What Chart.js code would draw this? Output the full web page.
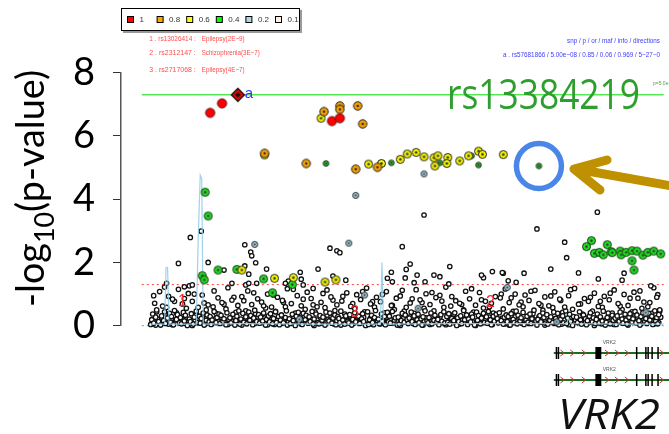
<!DOCTYPE html>
<html>
<head>
<meta charset="utf-8">
<script src="https://cdn.jsdelivr.net/npm/chart.js@4.4.1/dist/chart.umd.min.js"></script>
<style>
html, body { margin: 0; padding: 0; background: #fff; }
#wrap { width: 669px; height: 434px; position: relative; }
</style>
</head>
<body>
<div id="wrap"><canvas id="chart"></canvas></div>
<script>
// positions in kb from the left edge of the plot, values in -log10(p)
const leadSnp = [[118, 7.30]];
const ldRed = [[90, 6.73], [102, 7.03], [213, 6.47], [221, 6.56]];
const ldOrange = [[205, 6.77], [221, 6.95], [221, 6.84], [239, 6.95], [244, 6.38], [145, 5.45], [187, 5.13], [237, 4.95], [259, 5.01]];
const ldYellow = [[202, 6.56], [145, 5.40], [250, 5.11], [263, 5.13], [282, 5.26], [289, 5.43], [298, 5.48], [306, 5.34],
  [316, 5.31], [320, 5.37], [330, 5.32], [317, 5.05], [329, 5.13], [342, 5.21], [351, 5.37], [361, 5.52], [365, 5.42],
  [386, 5.41], [122, 1.76], [155, 1.50], [174, 1.52], [206, 1.38], [217, 1.45]];
const ldGreen = [[85, 4.22], [88, 3.47], [98, 1.76], [117, 1.78], [144, 1.48], [82, 1.58], [84, 1.45], [153, 1.04], [173, 1.30],
  [475, 2.69], [470, 2.50], [478, 2.29], [483, 2.32], [487, 2.24], [491, 2.56], [495, 2.34], [496, 2.31], [504, 2.36],
  [505, 2.24], [510, 2.32], [516, 2.37], [516, 2.05], [521, 2.36], [527, 2.23], [532, 2.32], [538, 2.36], [545, 2.27], [518, 1.76]];
const ldGreenSmall = [[207, 5.13], [273, 5.15], [322, 5.15], [354, 5.37], [361, 5.08], [422, 5.05], [477, 4.92]];
const ldBlue = [[135, 2.57], [237, 4.12], [230, 2.61], [306, 4.80], [246, 0.97], [390, 1.21], [530, 0.41], [440, 0.12], [180, 0.2], [300, 0.55]];
const ldWhiteHigh = [
  [70, 2.79], [81, 2.99], [58, 1.97], [88, 2.00], [125, 2.56], [131, 2.33], [132, 2.21], [136, 1.99], [147, 1.79], [211, 2.45],
  [218, 2.37], [221, 2.31], [199, 1.79], [181, 1.69], [284, 2.50], [273, 1.69], [288, 1.78], [125, 1.89], [104, 1.76], [129, 1.63],
  [169, 1.41], [182, 1.47], [227, 1.44], [214, 1.57], [306, 3.50], [481, 3.59], [420, 3.06], [448, 2.64], [450, 2.15], [434, 1.79],
  [462, 1.67], [292, 1.95], [332, 1.87], [366, 1.52], [375, 1.71], [386, 1.66], [407, 1.66], [391, 1.42], [399, 1.37], [508, 1.66],
  [385, 1.68], [482, 1.48], [506, 1.44], [535, 1.26], [287, 1.51], [299, 1.60], [316, 1.60], [322, 1.55], [331, 1.32], [269, 1.50],
  [274, 1.39], [296, 1.36], [307, 1.39], [364, 1.60], [46, 1.34], [64, 1.23], [69, 1.26], [72, 1.29], [112, 1.34], [126, 1.29],
  [129, 1.34], [137, 1.34], [166, 1.34], [184, 1.29], [194, 1.18]];
const ldWhiteBand = [
  [30,.04],[31,.19],[32,.37],[33,.08],[35,.27],[36,.5],[38,.13],[34,.71],[39,1.08],
  [40,.02],[41,.31],[43,.16],[44,.44],[45,.07],[47,.24],[49,.39],[42,.62],[48,.93],
  [50,.11],[51,.29],[53,.03],[54,.48],[56,.2],[57,.35],[59,.09],[52,.84],[58,1.15],
  [60,.26],[61,.06],[63,.42],[64,.15],[65,.33],[67,.01],[69,.21],[62,.69],[68,1.02],
  [70,.13],[71,.38],[73,.05],[74,.27],[76,.46],[77,.1],[79,.3],[72,.77],[78,.58],
  [80,.08],[81,.23],[83,.4],[84,.02],[86,.17],[87,.34],[89,.12],[82,.97],[88,.66],
  [90,.29],[91,.04],[92,.18],[94,.45],[96,.1],[97,.26],[99,.37],[93,.6],[98,.88],
  [100,.07],[101,.33],[103,.14],[104,.22],[106,.03],[107,.41],[109,.19],[102,.73],[108,1.2],
  [110,.25],[111,.09],[113,.36],[115,.02],[116,.16],[117,.3],[119,.47],[112,.81],[118,.64],
  [120,.05],[121,.21],[123,.39],[124,.11],[126,.28],[127,.06],[129,.43],[122,.92],[128,1.1],
  [130,.17],[131,.32],[133,.03],[134,.24],[135,.49],[137,.13],[139,.35],[132,.67],[138,.85],
  [140,.08],[141,.27],[143,.15],[144,.4],[146,.02],[147,.2],[149,.31],[142,.75],[148,1.0],
  [150,.12],[151,.38],[153,.06],[154,.23],[156,.44],[157,.1],[159,.29],[152,.59],[158,.9],
  [160,.03],[161,.18],[162,.34],[164,.09],[166,.26],[167,.47],[169,.14],[163,.8],[168,1.17],
  [170,.22],[171,.07],[173,.36],[174,.16],[176,.01],[177,.3],[179,.42],[172,.7],[178,.95],
  [180,.11],[181,.25],[183,.04],[184,.39],[186,.19],[187,.33],[189,.08],[182,.63],[188,1.06],
  [190,.28],[191,.13],[193,.45],[194,.05],[195,.21],[197,.37],[199,.1],[192,.86],[198,.6],
  [200,.06],[201,.32],[203,.17],[204,.27],[206,.02],[207,.43],[209,.2],[202,.74],[208,1.13],
  [210,.15],[211,.4],[213,.08],[214,.24],[216,.34],[217,.03],[219,.29],[212,.91],[218,.66],
  [220,.23],[221,.1],[222,.46],[224,.18],[226,.05],[227,.31],[229,.14],[223,.78],[228,1.04],
  [230,.09],[231,.35],[233,.02],[234,.2],[236,.41],[237,.12],[239,.27],[232,.61],[238,.98],
  [240,.3],[241,.07],[243,.22],[244,.38],[245,.13],[247,.01],[249,.44],[242,.83],[248,1.19],
  [250,.04],[251,.19],[253,.33],[254,.1],[256,.26],[257,.48],[259,.16],[252,.69],[258,.9],
  [260,.21],[261,.06],[263,.37],[264,.14],[266,.29],[267,.03],[269,.42],[262,.76],[268,1.08],
  [270,.12],[271,.3],[272,.08],[274,.45],[276,.18],[277,.25],[279,.02],[273,.64],[278,.87],
  [280,.27],[281,.05],[283,.16],[284,.39],[286,.11],[287,.34],[289,.2],[282,.94],[288,.58],
  [290,.07],[291,.24],[293,.43],[294,.13],[296,.31],[297,.04],[299,.19],[292,.72],[298,1.14],
  [300,.36],[301,.1],[303,.22],[304,.02],[305,.28],[307,.47],[309,.15],[302,.82],[308,1.01],
  [310,.09],[311,.26],[313,.4],[314,.06],[316,.17],[317,.33],[319,.12],[312,.67],[318,.89],
  [320,.2],[321,.03],[323,.35],[324,.14],[326,.44],[327,.08],[329,.29],[322,.96],[328,1.22],
  [330,.11],[331,.38],[332,.05],[334,.23],[336,.16],[337,.41],[339,.01],[333,.62],[338,.79],
  [340,.25],[341,.13],[343,.31],[344,.07],[346,.48],[347,.19],[349,.34],[342,.71],[348,1.09],
  [350,.04],[351,.21],[353,.12],[354,.37],[355,.27],[357,.02],[359,.43],[352,.85],[358,.65],
  [360,.17],[361,.32],[363,.06],[364,.24],[366,.39],[367,.1],[369,.28],[362,1.05],[368,.77],
  [370,.08],[371,.45],[373,.19],[374,.03],[376,.3],[377,.14],[379,.36],[372,.6],[378,.92],
  [380,.23],[381,.09],[382,.41],[384,.16],[386,.05],[387,.27],[389,.34],[383,.88],[388,1.16],
  [390,.13],[391,.29],[393,.02],[394,.38],[396,.2],[397,.1],[399,.46],[392,.73],[398,1.0],
  [400,.06],[401,.33],[403,.15],[404,.25],[406,.42],[407,.04],[409,.18],[402,.66],[408,.97],
  [410,.3],[411,.11],[413,.37],[414,.07],[415,.22],[417,.49],[419,.14],[412,.8],[418,1.12],
  [420,.02],[421,.2],[423,.32],[424,.12],[426,.4],[427,.26],[429,.08],[422,.7],[428,.91],
  [430,.35],[431,.05],[433,.17],[434,.28],[436,.1],[437,.43],[439,.23],[432,.63],[438,1.07],
  [440,.14],[441,.39],[442,.03],[444,.21],[446,.31],[447,.09],[449,.47],[443,.84],[448,.59],
  [450,.07],[451,.24],[453,.36],[454,.13],[456,.01],[457,.29],[459,.18],[452,.95],[458,1.18],
  [460,.27],[461,.1],[463,.44],[464,.19],[465,.05],[467,.34],[469,.22],[462,.68],[468,.86],
  [470,.03],[471,.16],[473,.3],[474,.41],[476,.12],[477,.25],[479,.07],[472,.77],[478,1.03],
  [480,.2],[481,.37],[483,.09],[484,.28],[486,.15],[487,.46],[489,.02],[482,.61],[488,.93],
  [490,.11],[491,.26],[492,.4],[494,.06],[496,.33],[497,.17],[499,.24],[493,.82],[498,1.13],
  [500,.04],[501,.31],[503,.14],[504,.43],[506,.21],[507,.08],[509,.36],[502,.7],[508,.99],
  [510,.18],[511,.05],[513,.27],[514,.38],[516,.12],[517,.22],[519,.45],[512,.64],[518,1.06],
  [520,.09],[521,.34],[523,.16],[524,.02],[525,.29],[527,.41],[529,.13],[522,.87],[528,.75],
  [530,.23],[531,.07],[533,.39],[534,.18],[536,.3],[537,.04],[539,.47],[532,.6],[538,1.2],
  [540,.15],[541,.26],[542,.06],[543,.35],[544,.5],[541,.9]];
const ldWhiteBand2 = [
  [32,.1],[35,.02],[37,.21],[36,.44],[33,.95],[42,.14],[45,.27],[48,.05],[46,.58],[44,1.22],
  [52,.03],[55,.18],[58,.29],[56,.41],[54,.77],[62,.21],[65,.08],[68,.15],[66,.55],[64,.86],
  [72,.01],[75,.17],[78,.24],[76,.36],[74,1.0],[82,.28],[85,.06],[88,.19],[86,.5],[84,.72],
  [92,.07],[95,.22],[98,.13],[96,.39],[94,1.1],[102,.25],[105,.12],[108,.04],[106,.53],[104,.68],
  [112,.15],[115,.26],[118,.08],[116,.42],[114,.9],[122,.02],[125,.16],[128,.23],[126,.47],[124,.79],
  [132,.19],[135,.07],[138,.28],[136,.38],[134,1.04],[142,.11],[145,.24],[148,.03],[146,.56],[144,.63],
  [152,.26],[155,.04],[158,.17],[156,.45],[154,.97],[162,.08],[165,.21],[168,.02],[166,.6],[164,.74],
  [172,.18],[175,.1],[178,.27],[176,.4],[174,1.15],[182,.05],[185,.28],[188,.14],[186,.52],[184,.84],
  [192,.22],[195,.01],[198,.18],[196,.43],[194,.66],[202,.09],[205,.25],[208,.12],[206,.57],[204,1.02],
  [212,.27],[215,.06],[218,.16],[216,.48],[214,.81],[222,.02],[225,.2],[228,.29],[226,.37],[224,.93],
  [232,.17],[235,.08],[238,.22],[236,.54],[234,.7],[242,.12],[245,.27],[248,.05],[246,.44],[244,1.08],
  [252,.24],[255,.03],[258,.19],[256,.59],[254,.76],[262,.06],[265,.18],[268,.26],[266,.41],[264,.99],
  [272,.2],[275,.09],[278,.15],[276,.51],[274,.64],[282,.01],[285,.23],[288,.11],[286,.46],[284,1.12],
  [292,.28],[295,.07],[298,.2],[296,.39],[294,.85],[302,.13],[305,.02],[308,.25],[306,.55],[304,.73],
  [312,.04],[315,.21],[318,.17],[316,.47],[314,1.05],[322,.26],[325,.1],[328,.03],[326,.58],[324,.78],
  [332,.15],[335,.28],[338,.09],[336,.36],[334,.92],[342,.05],[345,.19],[348,.24],[346,.5],[344,.67],
  [352,.22],[355,.12],[358,.01],[356,.43],[354,1.17],[362,.1],[365,.26],[368,.16],[366,.56],[364,.82],
  [372,.27],[375,.04],[378,.2],[376,.4],[374,.71],[382,.14],[385,.23],[388,.06],[386,.53],[384,1.0],
  [392,.02],[395,.17],[398,.28],[396,.45],[394,.88],[402,.21],[405,.08],[408,.13],[406,.6],[404,.75],
  [412,.07],[415,.25],[418,.18],[416,.38],[414,1.09],[422,.28],[425,.11],[428,.02],[426,.49],[424,.65],
  [432,.16],[435,.22],[438,.07],[436,.57],[434,.94],[442,.24],[445,.05],[448,.19],[446,.42],[444,.8],
  [452,.03],[455,.27],[458,.12],[456,.52],[454,1.14],[462,.18],[465,.14],[468,.26],[466,.37],[464,.69],
  [472,.09],[475,.2],[478,.01],[476,.46],[474,.9],[482,.26],[485,.06],[488,.17],[486,.58],[484,.77],
  [492,.13],[495,.28],[498,.04],[496,.4],[494,1.03],[502,.2],[505,.1],[508,.23],[506,.51],[504,.62],
  [512,.02],[515,.16],[518,.27],[516,.44],[514,.87],[522,.25],[525,.07],[528,.19],[526,.55],[524,1.1],
  [532,.11],[535,.24],[538,.05],[536,.39],[534,.73],[540,.2],[543,.1],[545,.27],[544,.46],[542,.98]];

// recombination rate (cM/Mb)
const recombPos = [30, 44, 45.5, 47, 48.5, 76, 78, 80, 81.5, 83, 120, 200, 262, 263.5, 265, 330, 450, 452, 454, 520, 548];
const recombRate = [0.6, 0.6, 23, 23, 0.6, 0.6, 35, 59.5, 58, 0.6, 0.8, 0.6, 0.6, 25, 0.6, 0.8, 0.8, 3, 0.8, 0.6, 0.6];

const lineStart = 21, lineEnd = 548;
const gwsLevel = 7.30, sugLevel = 1.3, baseLevel = 0;

const ldKeys = ['1', '0.8', '0.6', '0.4', '0.2', '0.1'];
const ldColors = ['#ff0000', '#ffa500', '#ffff00', '#00ff00', '#add8e6', '#fff2e0'];

const catalogLines = [['1 . rs13026414 :', 'Epilepsy(2E\u22129)'], ['2 . rs2312147 :', 'Schizophrenia(3E\u22127)'], ['3 . rs2717068 :', 'Epilepsy(4E\u22127)']];
const catalogX = [62, 373, 236];
const catalogY = [0.75, 0.72, 0.43];
const catalogTags = ['1', '2', '3'];

const geneStart = 437, geneEnd = 560;
const geneExons = [439.7, 441.7, 520.7, 530, 532.3, 536.3, 542.3];
const geneBlock = [479, 485];
const geneArrows = [445.7, 455.7, 467.3, 490.7, 500.7, 510.7, 546];

const pts = a => a.map(([x, y]) => ({ x, y }));

function makeDot(fill, r, core, stroke) {
  const c = document.createElement('canvas');
  const s = Math.ceil(r * 2 + 3);
  c.width = s; c.height = s;
  const g = c.getContext('2d');
  g.beginPath(); g.arc(s / 2, s / 2, r, 0, Math.PI * 2);
  g.fillStyle = fill; g.fill();
  g.lineWidth = 1; g.strokeStyle = stroke || '#222'; g.stroke();
  if (core) {
    g.beginPath(); g.arc(s / 2, s / 2, core, 0, Math.PI * 2);
    g.fillStyle = '#333'; g.fill();
  }
  return c;
}

function makeDiamond() {
  const c = document.createElement('canvas');
  c.width = 16; c.height = 16;
  const g = c.getContext('2d');
  const d = (r) => { g.beginPath(); g.moveTo(8, 8 - r); g.lineTo(8 + r, 8); g.lineTo(8, 8 + r); g.lineTo(8 - r, 8); g.closePath(); };
  d(6.5); g.fillStyle = '#ee0000'; g.fill(); g.lineWidth = 1.3; g.strokeStyle = '#111'; g.stroke();
  d(2.8); g.fillStyle = '#111'; g.fill();
  return c;
}

function fitText(ctx, text, x, y, width, align) {
  const w = ctx.measureText(text).width;
  const k = width / w;
  ctx.save();
  ctx.translate(x, y);
  ctx.scale(k, 1);
  ctx.textAlign = 'left';
  ctx.fillText(text, align === 'right' ? -w : 0, 0);
  ctx.restore();
}

const overlay = {
  id: 'overlay',
  afterDraw(chart) {
    const ctx = chart.ctx;
    const xs = chart.scales.x, ys = chart.scales.y;
    ctx.save();

    // y axis title with subscript
    ctx.save();
    ctx.translate(44, 307);
    ctx.rotate(-Math.PI / 2);
    ctx.fillStyle = '#000';
    ctx.textBaseline = 'alphabetic';
    ctx.font = '38px Lato';
    const w1 = ctx.measureText('-log').width;
    const w3 = ctx.measureText('(p-value)').width;
    ctx.font = '27px Lato';
    const w2 = ctx.measureText('10').width;
    ctx.scale(237 / (w1 + w2 + w3), 1);
    ctx.font = '38px Lato'; ctx.fillText('-log', 0, 0);
    ctx.font = '27px Lato'; ctx.fillText('10', w1, 10);
    ctx.font = '38px Lato'; ctx.fillText('(p-value)', w1 + w2, 0);
    ctx.restore();

    // LD legend box
    ctx.fillStyle = '#9a9a9a'; ctx.fillRect(123, 10, 179, 23);
    ctx.fillStyle = '#fff'; ctx.fillRect(121, 8, 179, 23);
    ctx.strokeStyle = '#000'; ctx.lineWidth = 1; ctx.strokeRect(121.5, 8.5, 178, 22);
    ctx.font = '8px "Liberation Sans"';
    ctx.textBaseline = 'middle';
    ldKeys.forEach((k, i) => {
      const sx = 127.5 + i * 29.6;
      ctx.fillStyle = ldColors[i];
      ctx.fillRect(sx, 16.5, 6, 6);
      ctx.strokeStyle = '#000'; ctx.strokeRect(sx, 16.5, 6, 6);
      ctx.fillStyle = '#333';
      ctx.fillText(k, sx + 12, 20);
    });

    // GWAS catalog text
    ctx.fillStyle = '#ff4b4b';
    ctx.font = '7px "Liberation Sans"';
    const rowsY = [39.5, 53, 70];
    const rightW = [43, 58, 43];
    catalogLines.forEach((l, i) => {
      fitText(ctx, l[0], 149.3, rowsY[i], 46.5);
      fitText(ctx, l[1], 201.7, rowsY[i], rightW[i]);
    });

    // info text top right
    ctx.fillStyle = '#3c3cff';
    fitText(ctx, 'snp / p / or / maf / info / directions', 660, 41.5, 93, 'right');
    fitText(ctx, 'a . rs57681866 / 5.00e\u221208 / 0.85 / 0.06 / 0.969 / 5\u221227\u22120', 660, 55, 157, 'right');

    // lead snp label
    ctx.fillStyle = '#3030ff';
    ctx.font = '15px "Liberation Sans"';
    ctx.textBaseline = 'middle';
    ctx.fillText('a', xs.getPixelForValue(leadSnp[0][0]) + 7, ys.getPixelForValue(leadSnp[0][1]) - 0.5);

    // catalog tags
    ctx.fillStyle = '#ff2a2a';
    ctx.font = '16px "Liberation Sans"';
    ctx.textAlign = 'center';
    catalogTags.forEach((t, i) => ctx.fillText(t, xs.getPixelForValue(catalogX[i]), ys.getPixelForValue(catalogY[i])));
    ctx.textAlign = 'left';

    // big rs label
    ctx.fillStyle = '#2f9e2f';
    ctx.font = '42px "Open Sans"';
    ctx.textBaseline = 'alphabetic';
    fitText(ctx, 'rs13384219', 447, 109, 193);
    ctx.fillStyle = '#5a9a5a';
    ctx.font = '5px "Liberation Sans"';
    ctx.fillText('p=5.0e-08', 653, 85);

    // highlight circle around rs13384219 and arrow
    const cx = xs.getPixelForValue(ldGreenSmall[5][0]);
    const cy = ys.getPixelForValue(ldGreenSmall[5][1]);
    ctx.beginPath();
    ctx.arc(cx, cy, 22.5, 0, Math.PI * 2);
    ctx.strokeStyle = '#4a86e8'; ctx.lineWidth = 5.5; ctx.stroke();

    ctx.strokeStyle = '#bf9000'; ctx.lineWidth = 9; ctx.lineCap = 'round'; ctx.lineJoin = 'round';
    ctx.beginPath();
    ctx.moveTo(607, 160); ctx.lineTo(574, 169); ctx.lineTo(600, 190);
    ctx.moveTo(576, 169); ctx.lineTo(700, 191);
    ctx.stroke();
    ctx.lineCap = 'butt';

    // gene tracks
    [353, 380].forEach(gy => {
      const a = xs.getPixelForValue(geneStart), b = xs.getPixelForValue(geneEnd);
      ctx.strokeStyle = '#1f6b1f'; ctx.lineWidth = 2;
      ctx.beginPath(); ctx.moveTo(a, gy); ctx.lineTo(b, gy); ctx.stroke();
      ctx.strokeStyle = '#cc3333'; ctx.lineWidth = 1;
      geneArrows.forEach(p => {
        const px = xs.getPixelForValue(p);
        ctx.beginPath(); ctx.moveTo(px - 2, gy - 3); ctx.lineTo(px + 2, gy); ctx.lineTo(px - 2, gy + 3); ctx.stroke();
      });
      ctx.strokeStyle = '#000'; ctx.lineWidth = 1.5;
      geneExons.forEach(p => {
        const px = xs.getPixelForValue(p);
        ctx.beginPath(); ctx.moveTo(px, gy - 6); ctx.lineTo(px, gy + 6); ctx.stroke();
      });
      ctx.fillStyle = '#000';
      const ba = xs.getPixelForValue(geneBlock[0]), bb = xs.getPixelForValue(geneBlock[1]);
      ctx.fillRect(ba, gy - 6, bb - ba, 12);
      ctx.fillStyle = '#555';
      ctx.font = '5px "Liberation Sans"';
      ctx.textAlign = 'center';
      ctx.textBaseline = 'middle';
      ctx.fillText('VRK2', xs.getPixelForValue(493), gy - 10);
      ctx.textAlign = 'left';
    });

    ctx.fillStyle = '#111';
    ctx.font = 'italic 42px "Open Sans"';
    ctx.textBaseline = 'alphabetic';
    fitText(ctx, 'VRK2', 558, 429, 102);

    ctx.restore();
  }
};

const hline = (level, color, dash, order) => ({
  data: [{ x: lineStart, y: level }, { x: lineEnd, y: level }],
  showLine: true, pointRadius: 0, borderColor: color, borderWidth: 1,
  borderDash: dash, order, clip: false
});

const bgPoint = { pointRadius: 2.2, backgroundColor: '#fff', borderColor: '#111', borderWidth: 1.3, clip: false };

const dotRed = makeDot('#ff0000', 4.6, 0, '#551111');
const dotOrange = makeDot('#f5a000', 4.2, 1.3);
const dotYellow = makeDot('#f2f200', 4, 1.3);
const dotGreen = makeDot('#22dd22', 4, 1.2, '#113311');
const dotGreenS = makeDot('#22bb22', 2.8, 1);
const dotBlue = makeDot('#9ec8dd', 3, 1);

new Chart(document.getElementById('chart'), {
  type: 'scatter',
  data: {
    datasets: [
      { data: pts(leadSnp), pointStyle: makeDiamond(), order: 0, clip: false },
      { data: pts(ldRed), pointStyle: dotRed, order: 1, clip: false },
      { data: pts(ldOrange), pointStyle: dotOrange, order: 2, clip: false },
      { data: pts(ldYellow), pointStyle: dotYellow, order: 3, clip: false },
      { data: pts(ldGreen), pointStyle: dotGreen, order: 4, clip: false },
      { data: pts(ldGreenSmall), pointStyle: dotGreenS, order: 4, clip: false },
      { data: pts(ldBlue), pointStyle: dotBlue, order: 5, clip: false },
      { data: recombPos.map((x, i) => ({ x, y: recombRate[i] })), yAxisID: 'y2', showLine: true, pointRadius: 0,
        borderColor: 'rgba(150,205,232,0.9)', borderWidth: 1.2, order: 6, clip: false },
      { data: pts(ldWhiteHigh), ...bgPoint, order: 7 },
      { data: pts(ldWhiteBand), ...bgPoint, order: 8 },
      { data: pts(ldWhiteBand2), ...bgPoint, order: 8 },
      hline(gwsLevel, '#00dd00', [], 9),
      hline(sugLevel, '#ff4040', [2, 3], 9),
      hline(baseLevel, '#888', [2, 3], 10)
    ]
  },
  options: {
    responsive: true,
    maintainAspectRatio: false,
    animation: false,
    events: [],
    layout: { padding: { left: 71, right: 0, top: 72.7, bottom: 108.3 } },
    plugins: { legend: { display: false }, tooltip: { enabled: false } },
    scales: {
      x: { type: 'linear', min: 0, max: 548, display: false },
      y: {
        min: 0, max: 8,
        ticks: { stepSize: 2, color: '#000', padding: 18, font: { family: 'Lato', size: 38 } },
        grid: { drawOnChartArea: false, drawTicks: true, tickLength: 8, color: '#333', lineWidth: 1 },
        border: { display: true, color: '#555', width: 1.5 },
        afterFit: s => { s.width = 50; }
      },
      y2: { min: 0, max: 100, display: false }
    }
  },
  plugins: [overlay]
});
</script>
</body>
</html>
